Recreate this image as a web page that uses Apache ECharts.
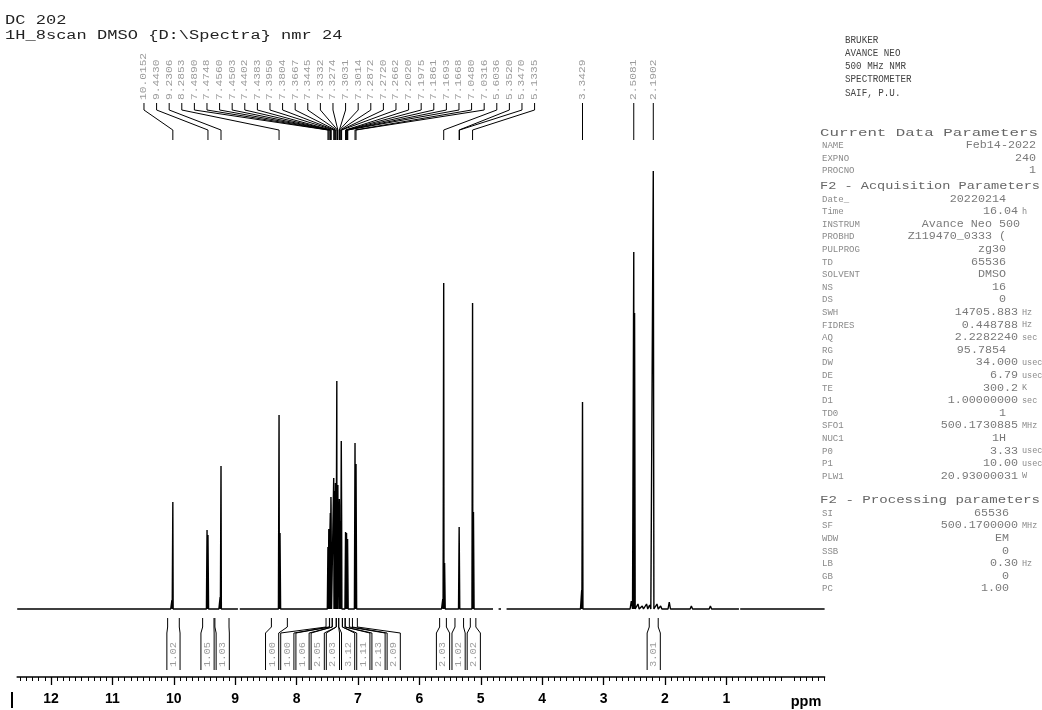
<!DOCTYPE html>
<html>
<head>
<meta charset="utf-8">
<script src="https://cdn.jsdelivr.net/npm/echarts@6/dist/echarts.min.js"></script>
<style>
  html, body { margin: 0; padding: 0; background: #fff; }
  #chart { width: 1042px; height: 710px; }
</style>
</head>
<body>
<div id="chart"></div>
<script>
// ---- 1H NMR spectrum of DC 202 (DMSO-d6, 500 MHz) ----

// line positions (ppm) and their intensities above the baseline
const peakPpm = [
  10.0300, 10.0152, 9.4580, 9.4430, 9.2450, 9.2306, 8.2853, 8.2700,
  7.4890, 7.4748, 7.4560, 7.4503, 7.4402, 7.4383, 7.3950, 7.3804, 7.3667,
  7.3445, 7.3332, 7.3274, 7.3031, 7.3014, 7.2872, 7.2720, 7.2662, 7.2020,
  7.1975, 7.1861, 7.1693, 7.1668, 7.0480, 7.0316,
  5.6190, 5.6036, 5.5890, 5.3520, 5.3470, 5.1335, 5.1190,
  3.3560, 3.3429, 2.5480, 2.5081, 2.4950, 2.4400, 2.3700, 2.3000, 2.2500,
  2.1902, 2.1300, 2.0700, 1.9300, 1.5700, 1.2600
];
const peakHeight = [
  9, 107, 79, 74, 12, 143, 194, 76,
  62, 80, 79, 96, 112, 104, 131, 118, 126,
  228, 121, 124, 110, 104, 88, 168, 94, 77,
  73, 76, 70, 72, 166, 145,
  10, 326, 46, 82, 84, 306, 97,
  19, 207, 8, 357, 296, 5, 3, 5, 4,
  438, 5, 3, 7, 3, 3
];

// picked peaks printed above the spectrum
const peakLabels = [
  '10.0152', '9.4430', '9.2306', '8.2853',
  '7.4890', '7.4748', '7.4560', '7.4503', '7.4402', '7.4383', '7.3950', '7.3804',
  '7.3667', '7.3445', '7.3332', '7.3274', '7.3031', '7.3014', '7.2872', '7.2720',
  '7.2662', '7.2020', '7.1975', '7.1861', '7.1693', '7.1668', '7.0480', '7.0316',
  '5.6036', '5.3520', '5.3470', '5.1335',
  '3.3429', '2.5081', '2.1902'
];

// integration regions (ppm) and integral values
const integralFrom = [10.10, 9.53, 9.33, 8.41, 7.520, 7.462, 7.418, 7.352, 7.312, 7.252, 7.207, 7.09, 5.67, 5.42, 5.17, 2.256];
const integralTo   = [9.91, 9.345, 9.10, 8.15, 7.465, 7.420, 7.355, 7.315, 7.255, 7.210, 7.140, 7.01, 5.56, 5.28, 5.08, 2.110];
const integralValues = ['1.02', '1.05', '1.03', '1.00', '1.00', '1.06', '2.05', '2.03', '3.12', '1.11', '2.13', '2.09', '2.03', '1.02', '2.02', '3.01'];

// short breaks in the plotted trace
const baselineGaps = [[8.955, 8.925], [4.80, 4.71], [4.67, 4.58], [0.795, 0.775]];

// ppm scale
const axisTickLabels = [12, 11, 10, 9, 8, 7, 6, 5, 4, 3, 2, 1];
const ppmLeft = 12.55;
const ppmRight = -0.6;

// header text
const titleLines = ['DC 202', '1H_8scan DMSO {D:\\Spectra} nmr 24'];
const instrumentLines = ['BRUKER', 'AVANCE NEO', '500 MHz NMR', 'SPECTROMETER', 'SAIF, P.U.'];

// parameter listing
const currentNames = ['NAME', 'EXPNO', 'PROCNO'];
const currentValues = ['Feb14-2022', '240', '1'];
const acqNames = ['Date_', 'Time', 'INSTRUM', 'PROBHD', 'PULPROG', 'TD', 'SOLVENT', 'NS', 'DS', 'SWH', 'FIDRES', 'AQ', 'RG', 'DW', 'DE', 'TE', 'D1', 'TD0', 'SFO1', 'NUC1', 'P0', 'P1', 'PLW1'];
const acqValues = ['20220214', '16.04', 'Avance Neo 500', 'Z119470_0333 (', 'zg30', '65536', 'DMSO', '16', '0', '14705.883', '0.448788', '2.2282240', '95.7854', '34.000', '6.79', '300.2', '1.00000000', '1', '500.1730885', '1H', '3.33', '10.00', '20.93000031'];
const acqUnits = ['', 'h', '', '', '', '', '', '', '', 'Hz', 'Hz', 'sec', '', 'usec', 'usec', 'K', 'sec', '', 'MHz', '', 'usec', 'usec', 'W'];
const procNames = ['SI', 'SF', 'WDW', 'SSB', 'LB', 'GB', 'PC'];
const procValues = ['65536', '500.1700000', 'EM', '0', '0.30', '0', '1.00'];
const procUnits = ['', 'MHz', '', '', 'Hz', '', ''];

// ---- build the trace: each line is a narrow spike on a flat baseline ----
const trace = [[ppmLeft, 0], [ppmRight, 0]];
peakPpm.forEach((p, i) => {
  const h = peakHeight[i];
  const hw = h < 20 ? 0.02 : 0.01;
  trace.push([p + hw, 0], [p, h], [p - hw, 0]);
});
baselineGaps.forEach(([a, b]) => {
  trace.push([a, 0], [(a + b) / 2, '-'], [b, 0]);
});
trace.sort((u, v) => v[0] - u[0]);

const minorTicks = [];
for (let k = -6; k <= 125; k++) {
  if (k % 10 !== 0) minorTicks.push(k / 10);
}

const MONO = '"Liberation Mono", "DejaVu Sans Mono", monospace';
const SANS = '"Liberation Sans", Arial, sans-serif';

const chart = echarts.init(document.getElementById('chart'), null, { renderer: 'canvas' });

const gridLeft = 17.2, gridWidth = 807.4;
chart.setOption({
  animation: false,
  backgroundColor: '#fff',
  grid: [
    { left: gridLeft, width: gridWidth, top: 171, height: 438 },
    { left: gridLeft, width: gridWidth, top: 612, height: 65 }
  ],
  xAxis: [
    { type: 'value', gridIndex: 0, min: ppmRight, max: ppmLeft, inverse: true, show: false },
    {
      type: 'value', gridIndex: 1, min: ppmRight, max: ppmLeft, inverse: true, position: 'bottom',
      axisLine: { show: true, lineStyle: { color: '#000', width: 1.6 } },
      axisTick: { show: true, customValues: axisTickLabels, length: 8, lineStyle: { color: '#000', width: 1.3 } },
      axisLabel: {
        show: true, customValues: axisTickLabels, margin: 15,
        fontFamily: SANS, fontWeight: 'bold', fontSize: 14, color: '#000'
      },
      splitLine: { show: false }
    },
    {
      type: 'value', gridIndex: 1, min: ppmRight, max: ppmLeft, inverse: true, position: 'bottom',
      axisLine: { show: false },
      axisTick: { show: true, customValues: minorTicks, length: 4, lineStyle: { color: '#000', width: 1 } },
      axisLabel: { show: false },
      splitLine: { show: false }
    }
  ],
  yAxis: [
    { type: 'value', gridIndex: 0, min: 0, max: 438, show: false },
    { type: 'value', gridIndex: 1, min: 0, max: 1, show: false }
  ],
  series: [{
    type: 'line',
    xAxisIndex: 0,
    yAxisIndex: 0,
    data: trace,
    showSymbol: false,
    clip: false,
    connectNulls: false,
    lineStyle: { color: '#000', width: 1.4 },
    silent: true
  }]
});

// ---- annotations placed through the ppm scale ----
const px = (ppm) => chart.convertToPixel({ xAxisIndex: 0 }, ppm);

// spread overlapping items apart, keeping each block centred on its natural mean
function spread(nat, gap) {
  const blocks = [];
  nat.forEach((x) => {
    blocks.push({ n: 1, sum: x });
    while (blocks.length > 1) {
      const b = blocks[blocks.length - 1], a = blocks[blocks.length - 2];
      const aStart = a.sum / a.n - (a.n - 1) * gap / 2;
      const bStart = b.sum / b.n - (b.n - 1) * gap / 2;
      if (aStart + a.n * gap > bStart) { a.n += b.n; a.sum += b.sum; blocks.pop(); }
      else break;
    }
  });
  const out = [];
  blocks.forEach((b) => {
    const s = b.sum / b.n - (b.n - 1) * gap / 2;
    for (let k = 0; k < b.n; k++) out.push(s + k * gap);
  });
  return out;
}

const measureCtx = document.createElement('canvas').getContext('2d');
function textWidth(str, font) { measureCtx.font = font; return measureCtx.measureText(str).width; }

const g = [];
function text(str, x, y, opt) {
  g.push({
    type: 'text', x: x, y: y, silent: true,
    rotation: opt.rotation || 0,
    scaleX: opt.scaleX || 1,
    style: {
      text: str, font: opt.font, fill: opt.fill || '#000',
      align: opt.align || 'left', verticalAlign: opt.verticalAlign || 'middle'
    }
  });
}
function line(points, width, color) {
  g.push({
    type: 'polyline', silent: true,
    shape: { points: points },
    style: { stroke: color || '#000', lineWidth: width || 1, fill: null }
  });
}

// peak labels with leader lines
const peakX = peakLabels.map((s) => px(parseFloat(s)));
const labelX = spread(peakX, 12.6);
const labelFont = '9.5px ' + MONO;
peakLabels.forEach((s, i) => {
  text(s, labelX[i], 100, { font: labelFont, fill: '#9a9a9a', rotation: Math.PI / 2, scaleX: 1.18 });
  line([[labelX[i], 103], [labelX[i], 110], [peakX[i], 130], [peakX[i], 140]], 1);
});

// integral brackets
const intL = integralFrom.map(px), intR = integralTo.map(px);
const boxW = 15.2;
const boxC = spread(intL.map((l, i) => (l + intR[i]) / 2), boxW);
integralValues.forEach((v, i) => {
  const bl = boxC[i] - boxW / 2 + 1, br = boxC[i] + boxW / 2 - 1;
  line([[intL[i], 618], [intL[i], 627], [bl, 633], [bl, 670]], 1);
  line([[intR[i], 618], [intR[i], 627], [br, 633], [br, 670]], 1);
  text(v, boxC[i], 667, { font: '9px ' + MONO, fill: '#9a9a9a', rotation: Math.PI / 2, scaleX: 1.15 });
});

// titles
text(titleLines[0], 5, 21, { font: '12px ' + MONO, fill: '#222', scaleX: 1.42 });
text(titleLines[1], 5, 36, { font: '12px ' + MONO, fill: '#222', scaleX: 1.42 });

// instrument block
instrumentLines.forEach((s, i) => {
  text(s, 845, 40 + i * 13.2, { font: '10.5px ' + MONO, fill: '#444', scaleX: 0.88 });
});

// parameter listing
const ROW = 12.6;
const headFont = '10px ' + MONO;
function header(str, y, width) {
  const w = textWidth(str, headFont);
  text(str, 820, y, { font: headFont, fill: '#666', scaleX: width / w });
}
const nameFont = '9.5px ' + MONO, valFont = '10px ' + MONO, unitFont = '8.5px ' + MONO;
function row(name, value, unit, y, valueEnd) {
  text(name, 822, y, { font: nameFont, fill: '#8a8a8a', scaleX: 0.95 });
  const end = unit ? 1018 : valueEnd;
  text(value, end, y, { font: valFont, fill: '#7a7a7a', scaleX: 1.17, align: 'right' });
  if (unit) text(unit, 1022, y, { font: unitFont, fill: '#8a8a8a', scaleX: 1.0 });
}

header('Current Data Parameters', 133, 218);
currentNames.forEach((n, i) => row(n, currentValues[i], '', 145.5 + i * ROW, 1036));

const acqTop = 199;
header('F2 - Acquisition Parameters', acqTop - 13, 220);
acqNames.forEach((n, i) => {
  const end = n === 'INSTRUM' ? 1020 : 1006;
  row(n, acqValues[i], acqUnits[i], acqTop + i * ROW, end);
});

const procHead = acqTop + (acqNames.length - 1) * ROW + 24;
header('F2 - Processing parameters', procHead, 220);
procNames.forEach((n, i) => row(n, procValues[i], procUnits[i], procHead + 13 + i * ROW, 1009));

// axis unit and cursor mark
text('ppm', 806, 702, { font: 'bold 14.5px ' + SANS, fill: '#000', align: 'center' });
g.push({ type: 'rect', silent: true, shape: { x: 11, y: 692, width: 2, height: 16 }, style: { fill: '#000' } });

chart.setOption({ graphic: g });
</script>
</body>
</html>
